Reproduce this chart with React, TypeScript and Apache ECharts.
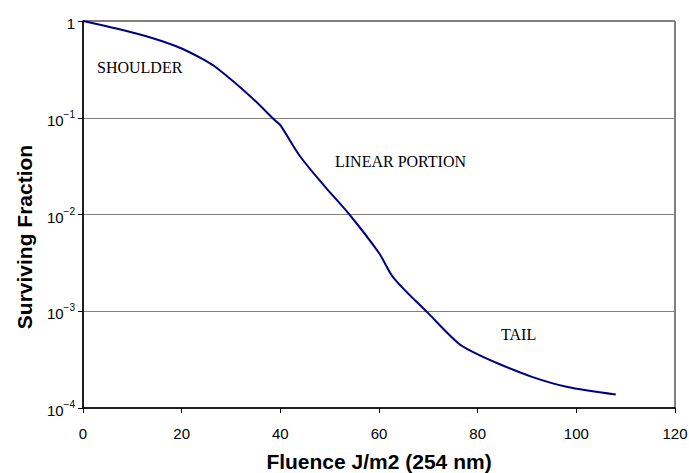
import React, { useEffect, useRef } from "react";
import * as echarts from "echarts";

const fluence = [0, 7, 14, 20, 24, 27, 34, 39, 40, 44, 49, 54, 60, 63, 70, 76, 79, 84, 91, 98, 108];
const surviving = [1, 0.83, 0.667, 0.52, 0.41, 0.33, 0.165, 0.093, 0.084, 0.04, 0.0195, 0.01, 0.004, 0.0022, 0.00095, 0.00047, 0.00038, 0.00029, 0.00021, 0.000166, 0.000138];
const xTicks = [0, 20, 40, 60, 80, 100, 120];
const annotations = [
  { text: "SHOULDER", x: 97, y: 68 },
  { text: "LINEAR PORTION", x: 335, y: 162 },
  { text: "TAIL", x: 501, y: 335 },
];
const xTitle = "Fluence J/m2 (254 nm)";
const yTitle = "Surviving Fraction";

const SANS = "Liberation Sans, Arial, sans-serif";

export default function App() {
  const ref = useRef<HTMLDivElement>(null);
  useEffect(() => {
    if (!ref.current) return;
    const chart = echarts.init(ref.current, null, { renderer: "svg" });
    chart.setOption({
      animation: false,
      backgroundColor: "#ffffff",
      grid: {
        left: 83,
        right: 14,
        top: 21,
        bottom: 65,
        show: true,
        borderColor: "#000",
        borderWidth: 1,
        containLabel: false,
        outerBoundsMode: "none",
      },
      xAxis: {
        type: "value",
        min: xTicks[0],
        max: xTicks[xTicks.length - 1],
        interval: 20,
        name: xTitle,
        nameLocation: "middle",
        nameGap: 43,
        nameTextStyle: { fontFamily: SANS, fontWeight: "bold", fontSize: 21, color: "#000" },
        axisLine: { show: true, lineStyle: { color: "#000", width: 1.5 } },
        axisTick: { show: true, length: 5, lineStyle: { color: "#000" } },
        axisLabel: { margin: 18, fontFamily: SANS, fontSize: 15, color: "#000" },
        splitLine: { show: false },
      },
      yAxis: {
        type: "log",
        logBase: 10,
        min: 0.0001,
        max: 1,
        axisLine: { show: true, lineStyle: { color: "#000", width: 1.5 } },
        axisTick: { show: true, length: 5, lineStyle: { color: "#000" } },
        axisLabel: {
          margin: 8,
          fontFamily: SANS,
          fontSize: 15,
          color: "#000",
          formatter: (v: number) => {
            const n = Math.round(Math.log10(v));
            if (n === 0) return "{b|1}";
            return "{b|10}{s|\u2212" + Math.abs(n) + "}";
          },
          rich: {
            b: { fontFamily: SANS, fontSize: 15, color: "#000", padding: [5, 0, 0, 0] },
            s: { fontFamily: SANS, fontSize: 10, color: "#000", padding: [0, 0, 7, 0] },
          },
        },
        splitLine: { show: true, lineStyle: { color: "#808080", width: 1 } },
      },
      series: [
        {
          type: "line",
          data: fluence.map((x, i) => [x, surviving[i]]),
          smooth: 0.3,
          showSymbol: false,
          lineStyle: { color: "#000080", width: 2 },
        },
      ],
      graphic: [
        ...annotations.map((a) => ({
          type: "text",
          left: a.x,
          top: a.y - 9,
          style: {
            text: a.text,
            fontFamily: "Liberation Serif, Times New Roman, serif",
            fontSize: 16,
            fill: "#000",
          },
        })),
        {
          type: "text",
          x: 24,
          y: 237,
          rotation: Math.PI / 2,
          style: {
            text: yTitle,
            fontFamily: SANS,
            fontWeight: "bold",
            fontSize: 21,
            fill: "#000",
            align: "center",
            verticalAlign: "middle",
          },
        },
      ],
    });
    return () => chart.dispose();
  }, []);
  return <div ref={ref} style={{ position: "fixed", left: 0, top: 0, width: 689, height: 473 }} />;
}
